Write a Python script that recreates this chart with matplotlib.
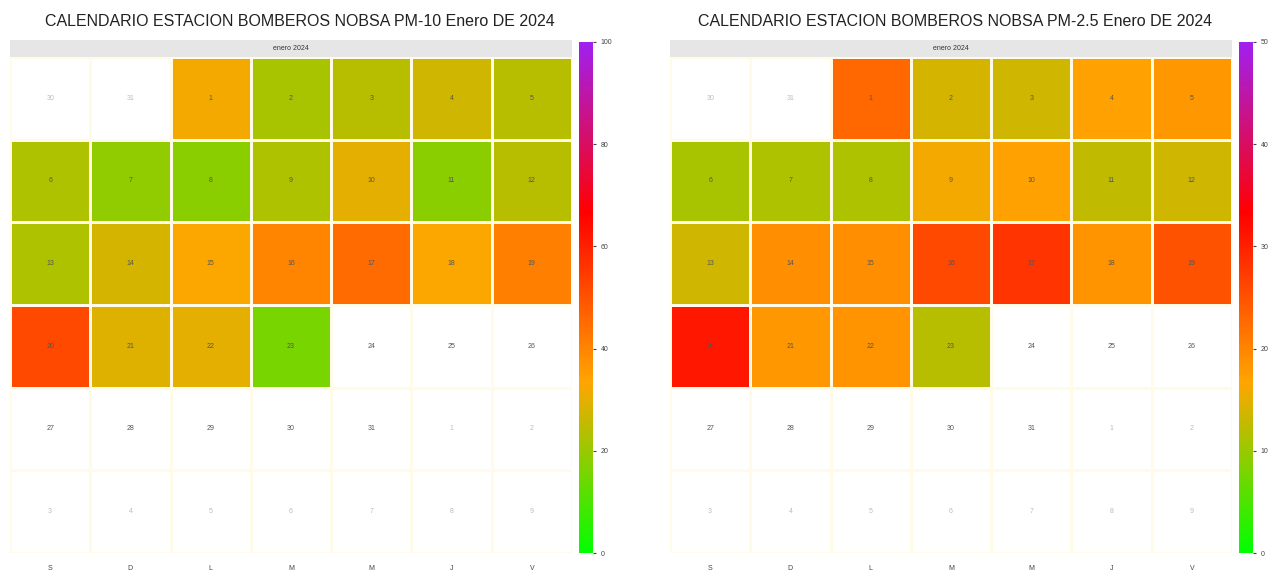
import datetime as dt
import numpy as np
import matplotlib
matplotlib.use("Agg")
import matplotlib.pyplot as plt
from matplotlib.colors import LinearSegmentedColormap

plt.rcParams['font.family'] = ['Liberation Sans', 'DejaVu Sans']

# daily means, 1..23 enero 2024 (rest without data)
pm10 = [32, 22, 24, 27, 24, 23, 19, 18, 23, 30, 18, 24,
        23, 28, 33, 40, 45, 33, 41, 52, 29, 30, 16]
pm25 = [23, 14, 13.5, 17, 18, 11, 11.5, 11.5, 16, 17, 12.5, 13.5,
        13.5, 19, 19, 26, 28, 18.5, 25, 31, 18, 18.5, 12]
titles = ["CALENDARIO ESTACION BOMBEROS NOBSA PM-10 Enero DE 2024",
          "CALENDARIO ESTACION BOMBEROS NOBSA PM-2.5 Enero DE 2024"]
vmaxes = [100, 50]
cb_ticks = [[0, 20, 40, 60, 80, 100], [0, 10, 20, 30, 40, 50]]
weekdays = ["S", "D", "L", "M", "M", "J", "V"]
strip_label = "enero 2024"

cmap = LinearSegmentedColormap.from_list(
    "aq", ["#00ff00", "#ffa500", "#ff0000", "#a020f0"])

W, H = 1277, 578
fig = plt.figure(figsize=(W / 100, H / 100), dpi=100)


def fx(px):
    return px / W


def fy(py):
    return 1 - py / H


start = dt.date(2023, 12, 30)  # first Saturday shown
days = [start + dt.timedelta(d) for d in range(42)]

panels = [(10, 572, 300, pm10), (670, 1232, 955, pm25)]
for k, (x0, x1, xc, vals) in enumerate(panels):
    grid = np.full((6, 7), np.nan)
    for i, d in enumerate(days):
        if d.month == 1 and d.year == 2024 and d.day <= len(vals):
            grid[i // 7, i % 7] = vals[d.day - 1]

    ax = fig.add_axes([fx(x0), fy(553), fx(x1 - x0), fy(57) - fy(553)])
    mesh = ax.pcolormesh(np.ma.masked_invalid(grid), cmap=cmap, vmin=0,
                         vmax=vmaxes[k], edgecolors="#fffbe8", linewidth=1)
    ax.set_xlim(0, 7)
    ax.set_ylim(6, 0)
    for i, d in enumerate(days):
        r, c = divmod(i, 7)
        col = "#555555" if d.month == 1 and d.year == 2024 else "#bbbbbb"
        ax.text(c + 0.5, r + 0.5, str(d.day), ha="center", va="center",
                fontsize=5, color=col)
    ax.set_xticks(np.arange(7) + 0.5)
    ax.set_xticklabels(weekdays, fontsize=5, color="#444444")
    ax.set_yticks([])
    ax.tick_params(length=0, pad=9)
    for s in ax.spines.values():
        s.set_visible(False)

    sax = fig.add_axes([fx(x0), fy(57), fx(x1 - x0), fy(40) - fy(57)])
    sax.set_facecolor("#e6e6e6")
    sax.set_xticks([])
    sax.set_yticks([])
    for s in sax.spines.values():
        s.set_visible(False)
    sax.text(0.5, 0.5, strip_label, ha="center", va="center", fontsize=5,
             color="#333333", transform=sax.transAxes)

    cax = fig.add_axes([fx(x1 + 7), fy(553), fx(14), fy(42) - fy(553)])
    cb = fig.colorbar(mesh, cax=cax, ticks=cb_ticks[k])
    cb.outline.set_visible(False)
    cax.tick_params(labelsize=5, length=2, colors="#444444")

    fig.text(fx(xc), fy(22), titles[k], ha="center", va="center",
             fontsize=11.5, color="#222222")

fig.savefig("out.png", dpi=100)
